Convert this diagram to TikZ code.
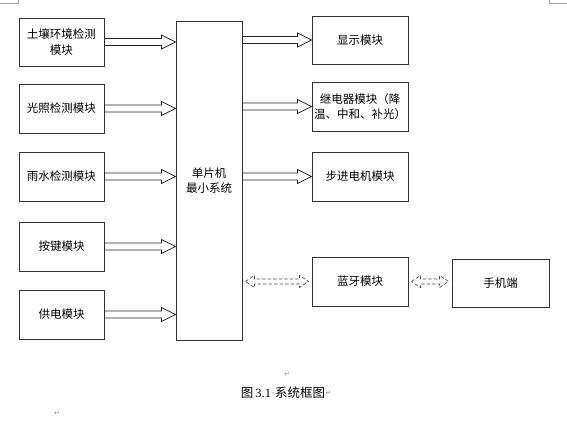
\documentclass[tikz,border=0pt]{standalone}
\usepackage{fontspec}
\setmainfont{Liberation Serif}
\newfontfamily\cjk{Noto Sans CJK SC}
\newfontfamily\markfont{DejaVu Sans}
\usetikzlibrary{calc}

% hollow block arrow from #1 to #2 (same height)
\newcommand{\blockarrow}[2]{%
  \draw[flow] let \p1=(#1), \p2=(#2) in
    (\x1,\y1+3.5pt) -- (\x2-14pt,\y1+3.5pt) -- (\x2-14pt,\y1+7pt) -- (\x2,\y1)
    -- (\x2-14pt,\y1-7pt) -- (\x2-14pt,\y1-3.5pt) -- (\x1,\y1-3.5pt) -- cycle;}
% dashed hollow arrow with two heads
\newcommand{\linkarrow}[2]{%
  \draw[link] let \p1=(#1), \p2=(#2) in
    (\x1+3pt,\y1) -- (\x1+12pt,\y1+6pt) -- (\x1+12pt,\y1+2.5pt) -- (\x2-12pt,\y1+2.5pt)
    -- (\x2-12pt,\y1+6pt) -- (\x2-3pt,\y1) -- (\x2-12pt,\y1-6pt) -- (\x2-12pt,\y1-2.5pt)
    -- (\x1+12pt,\y1-2.5pt) -- (\x1+12pt,\y1-6pt) -- cycle;}

\begin{document}
\begin{tikzpicture}[x=1pt,y=-1pt,
    module/.style={draw=black!80, line width=0.9pt, minimum width=85pt, minimum height=48pt,
      inner sep=1pt, align=center, font=\cjk\fontsize{11.5}{15.5}\selectfont},
    flow/.style={draw=black!85, line width=0.8pt},
    link/.style={draw=black!70, line width=0.7pt, dash pattern=on 3.5pt off 2pt},
    pmark/.style={text=black!45, inner sep=0pt, font=\markfont\fontsize{7}{8}\selectfont}]
  \useasboundingbox (0,0) rectangle (567,420);

  % page corner marks
  \draw[black!35, line width=0.5pt] (0,3) -- (18,3) -- (18,0);
  \draw[black!35, line width=0.5pt] (549,0) -- (549,3) -- (567,3);

  % input modules
  \node[module] (soil)  at (61.5,42)    {土壤环境检测\\模块};
  \node[module, minimum height=49pt] (light) at (61.5,108.5) {光照检测模块};
  \node[module, minimum height=49pt] (rain)  at (61.5,176.5) {雨水检测模块};
  \node[module, minimum height=49pt] (key)   at (61.5,246.5) {按键模块};
  \node[module, minimum height=49pt] (power) at (61.5,314.5) {供电模块};

  % controller
  \node[module, minimum width=66pt, minimum height=319pt] (mcu) at (209,180.5) {单片机\\最小系统};

  % output modules
  \node[module, minimum width=96pt] (disp)  at (360,40)    {显示模块};
  \node[module, minimum width=96pt, minimum height=49pt] (relay) at (360,106.5) {继电器模块（降\\温、中和、补光）};
  \node[module, minimum width=96pt, minimum height=49pt] (motor) at (360,176.5) {步进电机模块};
  \node[module, minimum width=96pt, minimum height=49pt] (bt)    at (360,281.5) {蓝牙模块};
  \node[module, minimum width=97pt] (phone) at (500.5,283) {手机端};

  % arrows
  \foreach \m in {soil,light,rain,key,power}
    \blockarrow{\m.east}{mcu.west |- \m.east};
  \foreach \m in {disp,relay,motor}
    \blockarrow{mcu.east |- \m.west}{\m.west};
  \linkarrow{mcu.east |- bt.west}{bt.west};
  \linkarrow{bt.east}{phone.west |- bt.east};

  % caption
  \node[pmark] (m1) at (287,374) {↵};
  \node[inner sep=0pt, font=\fontsize{12.5}{14}\selectfont] (cap) at (283,393)
    {{\cjk 图}\,3.1{\color{black!45}·}{\cjk 系统框图}};
  \node[pmark, anchor=west] (m2) at (cap.east) {↵};
  \node[pmark] (m3) at (57,413) {↵};
\end{tikzpicture}
\end{document}
